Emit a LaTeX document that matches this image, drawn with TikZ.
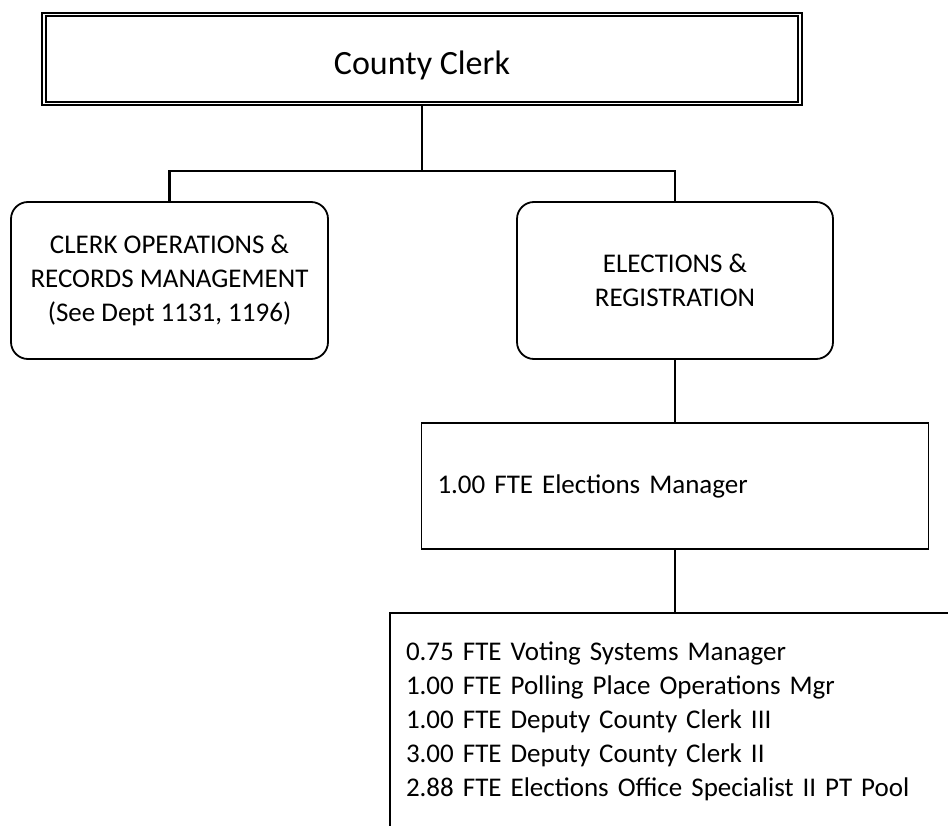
\documentclass[tikz,border=0pt]{standalone}
\usepackage{fontspec}
\setmainfont{Carlito}

\tikzset{
  box/.style={draw,line width=1.8pt,align=center,inner sep=3pt,font=\fontsize{27}{34}\selectfont},
  rbox/.style={box,rounded corners=17pt},
  listbox/.style={box,align=left,inner xsep=16pt},
  conn/.style={line width=2.4pt}
}

\begin{document}
\begin{tikzpicture}[x=1pt,y=-1pt]
    \useasboundingbox (0,0) rectangle (948,826);
    \clip (0,0) rectangle (948,826);
    \node[box,double,line width=1.7pt,double distance=1.7pt,minimum width=756pt,minimum height=89pt,
        text height=32pt,text depth=0pt,font=\fontsize{34}{40}\selectfont] (clerk) at (422,59) {County Clerk};
    \node[rbox,minimum width=317pt,minimum height=157pt] (ops) at (169.5,280.5)
        {CLERK OPERATIONS \&\\RECORDS MANAGEMENT\\(See Dept 1131, 1196)};
    \node[rbox,minimum width=316pt,minimum height=157pt] (elect) at (675,280.5)
        {ELECTIONS \&\\REGISTRATION};
    \node[listbox,text width=475pt,minimum height=126pt] (mgr) at (675,486)
        {1.00 FTE Elections Manager};
    \node[listbox,text width=538pt,minimum height=216pt,anchor=north] (staff) at (675,612)
        {0.75 FTE Voting Systems Manager\\
         1.00 FTE Polling Place Operations Mgr\\
         1.00 FTE Deputy County Clerk III\\
         3.00 FTE Deputy County Clerk II\\
         2.88 FTE Elections Office Specialist II PT Pool};
    \coordinate (fork) at (422,171);
    \draw[conn] (clerk.south) -- (fork);
    \draw[conn] (ops.north) |- (fork) -| (elect.north);
    \draw[conn] (elect.south) -- (mgr.north);
    \draw[conn] (mgr.south) -- (staff.north);
\end{tikzpicture}
\end{document}
